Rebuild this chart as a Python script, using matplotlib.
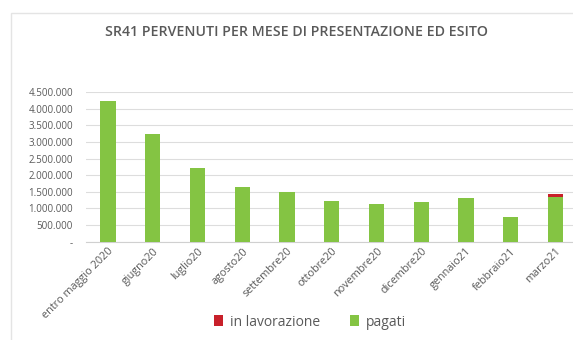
import numpy as np
import matplotlib.pyplot as plt
from matplotlib.patches import Rectangle
from matplotlib.ticker import FuncFormatter

mesi = ["entro maggio 2020", "giugno20", "luglio20", "agosto20", "settembre20",
        "ottobre20", "novembre20", "dicembre20", "gennaio21", "febbraio21", "marzo21"]
pagati = [4240000, 3230000, 2210000, 1635000, 1480000, 1235000,
          1140000, 1195000, 1320000, 735000, 1340000]
in_lavorazione = [0, 0, 0, 0, 0, 0, 0, 0, 0, 0, 95000]
yticks = np.arange(0, 4500001, 500000)

verde = "#84C443"
rosso = "#C8202A"
grigio = "#595959"

plt.rcParams["font.family"] = ["Open Sans", "DejaVu Sans"]

W, H = 573, 340
fig = plt.figure(figsize=(W / 100, H / 100), dpi=100)
fig.patches.append(Rectangle((11 / W, -0.1), 1.2, 1 - 13 / H + 0.1, transform=fig.transFigure,
                             fill=False, edgecolor="#e4e4e4", linewidth=1.0))

ax = fig.add_axes([85.6 / W, 1 - 241.7 / H, 492.4 / W, (241.7 - 92) / H])
x = np.arange(len(mesi))
ax.bar(x, pagati, width=0.34, color=verde, label="pagati", zorder=3)
ax.bar(x, in_lavorazione, width=0.34, bottom=pagati, color=rosso, label="in lavorazione", zorder=3)

ax.set_xlim(-0.5, len(mesi) - 0.5)
ax.set_ylim(0, 4500000)
ax.set_yticks(yticks)
ax.yaxis.set_major_formatter(FuncFormatter(
    lambda v, p: "-" if v == 0 else f"{int(v):,}".replace(",", ".")))
ax.grid(axis="y", color="#dddddd", linewidth=0.8, zorder=0)
for s in ["top", "right", "left"]:
    ax.spines[s].set_visible(False)
ax.spines["bottom"].set_color("#d0d0d0")
ax.tick_params(axis="y", length=0, labelsize=7, labelcolor=grigio, pad=9)
ax.tick_params(axis="x", length=0, labelsize=7.8, labelcolor=grigio, pad=3)
ax.set_xticks(x)
ax.set_xticklabels(mesi, rotation=45, ha="right", rotation_mode="anchor")

fig.text(296.5 / W, 1 - 32 / H, "SR41 PERVENUTI PER MESE DI PRESENTAZIONE ED ESITO",
         ha="center", va="center", fontsize=10.2, color=grigio, fontweight="semibold")

h, l = ax.get_legend_handles_labels()
fig.legend(h[::-1], l[::-1], loc="center", bbox_to_anchor=(310 / W, 1 - 322 / H), ncol=2,
           frameon=False, fontsize=10, labelcolor=grigio, handlelength=0.6, handleheight=0.8,
           handletextpad=0.5, columnspacing=2.2)

fig.savefig("out.png", dpi=100, facecolor="white")
